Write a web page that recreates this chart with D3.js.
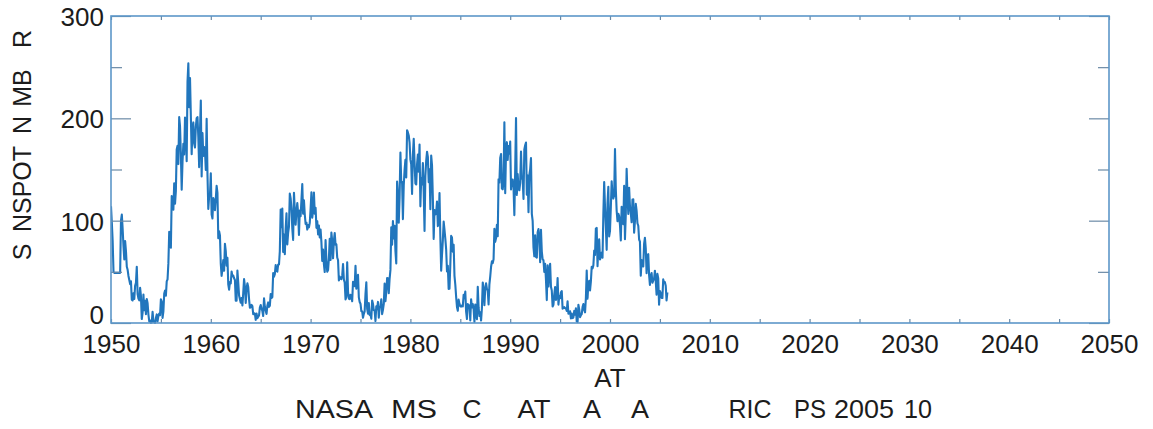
<!DOCTYPE html>
<html><head><meta charset="utf-8">
<script src="https://cdn.jsdelivr.net/npm/d3@7"></script>
<style>
body{margin:0;background:#fff}
text{font-family:"Liberation Sans",Arial,Helvetica,sans-serif;fill:#1c1c1c}
</style>
</head><body>
<svg id="chart" width="1153" height="429"></svg>
<script>
// ---------- DATA (monthly sunspot numbers) ----------
const startYear = 1950;
const ssn1950s = [
114, 98, 80, 50, 49, 49, 49, 49, 49, 49, 49, 49,
100, 106, 92, 75, 62, 80, 70, 55, 52, 46, 42, 38,
40.7, 22.7, 22.0, 29.1, 23.4, 36.4, 39.3, 54.9, 28.2, 23.8, 22.1, 34.3,
26.5, 3.9, 10.0, 27.8, 12.5, 21.8, 8.6, 23.5, 19.3, 8.2, 1.6, 2.5,
0.2, 0.5, 10.9, 1.8, 0.8, 0.2, 4.8, 8.4, 1.5, 7.0, 9.2, 7.6,
23.1, 20.8, 4.9, 11.3, 28.9, 31.7, 26.7, 40.7, 42.7, 58.5, 89.2, 76.9,
73.6, 124.0, 118.4, 110.7, 136.6, 116.6, 129.1, 169.6, 173.2, 155.3, 201.3, 192.1,
165.0, 130.2, 157.4, 175.2, 164.6, 200.7, 187.2, 158.0, 235.8, 253.8, 210.9, 239.4,
202.5, 164.9, 190.7, 196.0, 175.3, 171.5, 191.4, 200.2, 201.2, 181.5, 152.3, 187.6,
217.4, 143.1, 185.7, 163.3, 172.0, 168.7, 149.6, 199.6, 145.2, 111.4, 124.0, 125.0
];
const ssn1960s = [
146.3, 106.0, 102.2, 122.0, 119.6, 110.2, 121.7, 134.1, 127.2, 82.8, 89.6, 85.6,
57.9, 46.1, 53.0, 61.4, 51.0, 77.4, 70.2, 55.9, 63.6, 37.7, 32.6, 40.0,
38.7, 50.3, 45.6, 46.4, 43.7, 42.0, 21.8, 21.8, 51.3, 39.5, 26.9, 23.2,
19.8, 24.4, 17.1, 29.3, 43.0, 35.9, 19.6, 33.2, 38.8, 35.3, 23.4, 14.9,
15.3, 17.7, 16.5, 8.6, 9.5, 9.1, 3.1, 9.3, 4.7, 6.1, 7.4, 15.1,
17.5, 14.2, 11.7, 6.8, 24.1, 15.9, 11.9, 8.9, 16.8, 20.1, 15.8, 17.0,
28.2, 24.4, 25.3, 48.7, 45.3, 47.7, 56.7, 51.2, 50.2, 57.2, 57.2, 70.4,
110.9, 93.6, 111.8, 69.5, 86.5, 67.3, 91.5, 107.2, 76.8, 88.2, 94.3, 126.4,
121.8, 111.9, 92.2, 81.2, 127.2, 110.3, 96.1, 109.3, 117.2, 107.7, 86.0, 109.8,
104.4, 120.5, 135.8, 106.8, 120.0, 106.0, 96.8, 98.0, 91.3, 95.7, 93.5, 97.9
];
const ssn1970s = [
111.5, 127.8, 102.9, 109.5, 127.5, 106.8, 112.5, 93.0, 99.5, 86.6, 95.2, 83.5,
91.3, 79.0, 60.7, 71.8, 57.5, 49.8, 81.0, 61.4, 50.2, 51.7, 63.2, 82.2,
61.5, 88.4, 80.1, 63.2, 80.5, 88.0, 76.5, 76.8, 64.0, 61.3, 41.6, 45.3,
43.4, 42.9, 46.0, 57.7, 42.4, 39.5, 23.1, 25.6, 59.3, 30.7, 23.9, 23.3,
27.6, 26.0, 21.3, 40.3, 39.5, 36.0, 55.8, 33.6, 40.2, 47.1, 25.0, 20.5,
18.9, 11.5, 11.5, 5.1, 9.0, 11.4, 28.2, 39.7, 13.9, 9.1, 19.4, 7.8,
8.1, 4.3, 21.9, 18.8, 12.4, 12.2, 1.9, 16.4, 13.5, 20.6, 5.2, 15.3,
16.4, 23.1, 8.7, 12.9, 18.6, 38.5, 21.4, 30.1, 44.0, 43.8, 29.1, 43.2,
51.9, 93.6, 76.5, 99.7, 82.7, 95.1, 70.4, 58.1, 138.2, 125.1, 97.9, 122.7,
166.6, 137.5, 138.0, 101.5, 134.4, 149.5, 159.4, 142.2, 188.4, 186.2, 183.3, 176.3
];
const ssn1980s = [
159.6, 155.0, 126.2, 164.1, 179.9, 157.3, 136.3, 135.4, 155.0, 164.7, 147.9, 174.4,
114.0, 141.3, 135.5, 156.4, 127.5, 90.0, 143.8, 158.7, 167.3, 162.4, 137.5, 150.1,
111.2, 163.6, 153.8, 122.0, 82.2, 110.4, 106.1, 107.6, 118.8, 94.7, 98.1, 127.0,
84.3, 51.0, 66.5, 80.7, 99.2, 91.1, 82.2, 71.8, 50.3, 55.8, 33.3, 33.4,
57.0, 85.1, 83.5, 69.7, 76.4, 46.1, 37.4, 25.5, 15.7, 12.0, 22.8, 18.7,
16.5, 15.9, 17.2, 16.2, 27.5, 24.2, 30.7, 11.1, 3.9, 18.6, 16.2, 17.3,
2.5, 23.2, 15.1, 18.5, 13.7, 1.1, 18.1, 7.4, 3.8, 35.4, 15.2, 6.8,
10.4, 2.4, 14.7, 39.6, 33.0, 17.4, 33.9, 38.8, 33.3, 31.6, 18.1, 37.8,
45.5, 55.0, 60.3, 58.6, 62.3, 92.0, 79.3, 83.1, 96.0, 84.8, 140.5, 137.2,
161.3, 165.1, 131.4, 130.6, 138.5, 196.2, 126.9, 168.9, 176.7, 159.4, 173.0, 165.5
];
const ssn1990s = [
177.3, 130.5, 140.3, 140.3, 132.2, 105.4, 149.4, 200.3, 125.2, 145.5, 131.4, 129.7,
136.9, 167.5, 141.9, 140.0, 121.3, 169.7, 173.7, 176.3, 125.3, 144.1, 108.2, 144.4,
150.0, 161.1, 106.7, 99.8, 73.8, 65.2, 85.7, 64.5, 63.9, 88.7, 91.8, 82.6,
59.3, 91.0, 69.8, 62.2, 61.3, 49.8, 57.9, 42.2, 22.4, 56.4, 35.6, 48.9,
57.8, 35.5, 31.7, 16.1, 17.8, 28.0, 35.1, 22.5, 25.7, 44.0, 18.0, 26.2,
24.2, 29.9, 31.1, 14.0, 14.5, 15.6, 14.5, 14.3, 11.8, 21.1, 9.0, 10.0,
11.5, 4.4, 9.2, 4.8, 5.5, 11.8, 8.2, 14.4, 1.6, 0.9, 17.9, 13.3,
5.7, 7.6, 8.7, 15.5, 18.5, 12.7, 10.4, 24.4, 51.3, 23.8, 39.0, 41.2,
31.9, 40.3, 54.8, 53.4, 56.3, 70.7, 66.6, 92.2, 92.9, 55.5, 74.0, 81.9,
62.0, 66.3, 68.8, 63.7, 106.4, 137.7, 113.5, 93.7, 71.5, 116.7, 133.2, 84.6
];
const ssn2000s = [
90.1, 112.9, 138.5, 125.5, 121.6, 124.9, 170.1, 130.5, 109.7, 99.4, 106.8, 104.4,
95.6, 80.6, 113.5, 107.7, 96.6, 134.0, 81.8, 106.4, 150.7, 125.5, 106.5, 132.2,
114.1, 107.4, 98.4, 120.7, 120.8, 88.3, 99.6, 116.4, 109.6, 97.5, 95.0, 81.6,
79.5, 46.2, 61.5, 60.0, 55.2, 77.4, 83.3, 72.7, 48.7, 65.5, 67.3, 47.0,
37.2, 46.0, 48.9, 39.3, 41.5, 43.2, 51.1, 40.9, 27.7, 48.0, 43.5, 17.9,
31.3, 29.2, 24.5, 24.4, 42.6, 39.6, 39.9, 36.4, 22.1, 30.0
];
const xDomain = [1950, 2050];
const yDomain = [0, 300];
const xMajorTicks = [1950, 1960, 1970, 1980, 1990, 2000, 2010, 2020, 2030, 2040, 2050];
const xMinorTicks = [1955, 1965, 1975, 1985, 1995, 2005, 2015, 2025, 2035, 2045];
const yMajorTicks = [0, 100, 200, 300];
const yMinorTicks = [50, 150, 250];
const xAxisTitle = "AT";
const yAxisWords = ["S", "NSPOT", "N", "MB", "R"];
const footerWords = ["NASA", "MS", "C", "AT", "A", "A", "RIC", "PS", "2005", "10"];

// ---------- LAYOUT ----------
const margin = {left: 111, right: 44, top: 16, bottom: 106};
const W = 1153, H = 429;
const yWordCenters = [252, 189, 125, 88, 39];
const footerCenters = [334, 414, 472, 534, 592, 640, 750, 810, 864, 918];
const footerWidths  = [78, 46, 19, 33, 18, 18, 43, 32, 60, 28];
const fs = 26;

const svg = d3.select("#chart");
const x = d3.scaleLinear().domain(xDomain).range([margin.left, W - margin.right]);
const y = d3.scaleLinear().domain(yDomain).range([H - margin.bottom, margin.top]);

const all = [].concat(ssn1950s, ssn1960s, ssn1970s, ssn1980s, ssn1990s, ssn2000s);
const series = all.map((v, i) => ({t: startYear + i / 12, v}));

const axisCol = "#5d97c9";
const tickCol = "#6b8aa6";

svg.append("clipPath").attr("id", "clip").append("rect")
  .attr("x", x(1950)).attr("y", y(300) - 1)
  .attr("width", x(2050) - x(1950)).attr("height", y(0) - y(300) + 2);

// line
svg.append("path").datum(series)
  .attr("clip-path", "url(#clip)")
  .attr("fill", "none").attr("stroke", "#2176bd").attr("stroke-width", 2.1)
  .attr("stroke-linejoin", "round")
  .attr("d", d3.line().x(d => x(d.t)).y(d => y(d.v)));

function styleAxis(g) {
  g.select(".domain").remove();
  g.selectAll(".tick line").attr("stroke", tickCol).attr("stroke-width", 1.2);
}
function styleText(sel) {
  sel.style("font-size", fs + "px").style("font-family", "Liberation Sans, Arial, sans-serif").attr("fill", "#1c1c1c");
}
// bottom axis (labels)
svg.append("g").attr("transform", `translate(0,${y(0)})`)
  .call(d3.axisBottom(x).tickValues(xMajorTicks.concat(xMinorTicks)).tickSize(-4).tickSizeOuter(0)
        .tickFormat(d => xMajorTicks.includes(d) ? d3.format("d")(d) : ""))
  .call(styleAxis)
  .call(g => g.selectAll(".tick text").attr("y", 12).attr("dy", "0.71em").call(styleText));
// top axis
svg.append("g").attr("transform", `translate(0,${y(300)})`)
  .call(d3.axisTop(x).tickValues(xMajorTicks.concat(xMinorTicks)).tickSize(-4).tickSizeOuter(0).tickFormat(""))
  .call(styleAxis);
// left axis
svg.append("g").attr("transform", `translate(${x(1950)},0)`)
  .call(d3.axisLeft(y).tickValues(yMajorTicks).tickSize(-20).tickSizeOuter(0).tickFormat(d3.format("d")))
  .call(styleAxis)
  .call(g => g.selectAll(".tick text").attr("x", -7)
        .attr("dy", d => d === 0 ? "0em" : "0.36em").call(styleText));
svg.append("g").attr("transform", `translate(${x(1950)},0)`)
  .call(d3.axisLeft(y).tickValues(yMinorTicks).tickSize(-11).tickSizeOuter(0).tickFormat(""))
  .call(styleAxis);
// right axis
svg.append("g").attr("transform", `translate(${x(2050)},0)`)
  .call(d3.axisRight(y).tickValues(yMajorTicks).tickSize(-20).tickSizeOuter(0).tickFormat(""))
  .call(styleAxis);
svg.append("g").attr("transform", `translate(${x(2050)},0)`)
  .call(d3.axisRight(y).tickValues(yMinorTicks).tickSize(-11).tickSizeOuter(0).tickFormat(""))
  .call(styleAxis);

// box
svg.append("rect").attr("x", x(1950)).attr("y", y(300))
  .attr("width", x(2050) - x(1950)).attr("height", y(0) - y(300))
  .attr("fill", "none").attr("stroke", axisCol).attr("stroke-width", 1.6);

// axis titles
svg.append("text").attr("x", (x(1950) + x(2050)) / 2).attr("y", 378)
  .attr("text-anchor", "middle").attr("dominant-baseline", "central")
  .style("font-size", fs + "px").text(xAxisTitle);

yAxisWords.forEach((w, i) => {
  svg.append("text")
    .attr("transform", `translate(22,${yWordCenters[i]}) rotate(-90)`)
    .attr("text-anchor", "middle").attr("dominant-baseline", "central")
    .style("font-size", "25px").text(w);
});

footerWords.forEach((w, i) => {
  svg.append("text").attr("x", footerCenters[i] - footerWidths[i] / 2).attr("y", 409)
    .attr("dominant-baseline", "central")
    .attr("textLength", footerWidths[i]).attr("lengthAdjust", "spacingAndGlyphs")
    .style("font-size", fs + "px").text(w);
});
</script>
</body></html>
